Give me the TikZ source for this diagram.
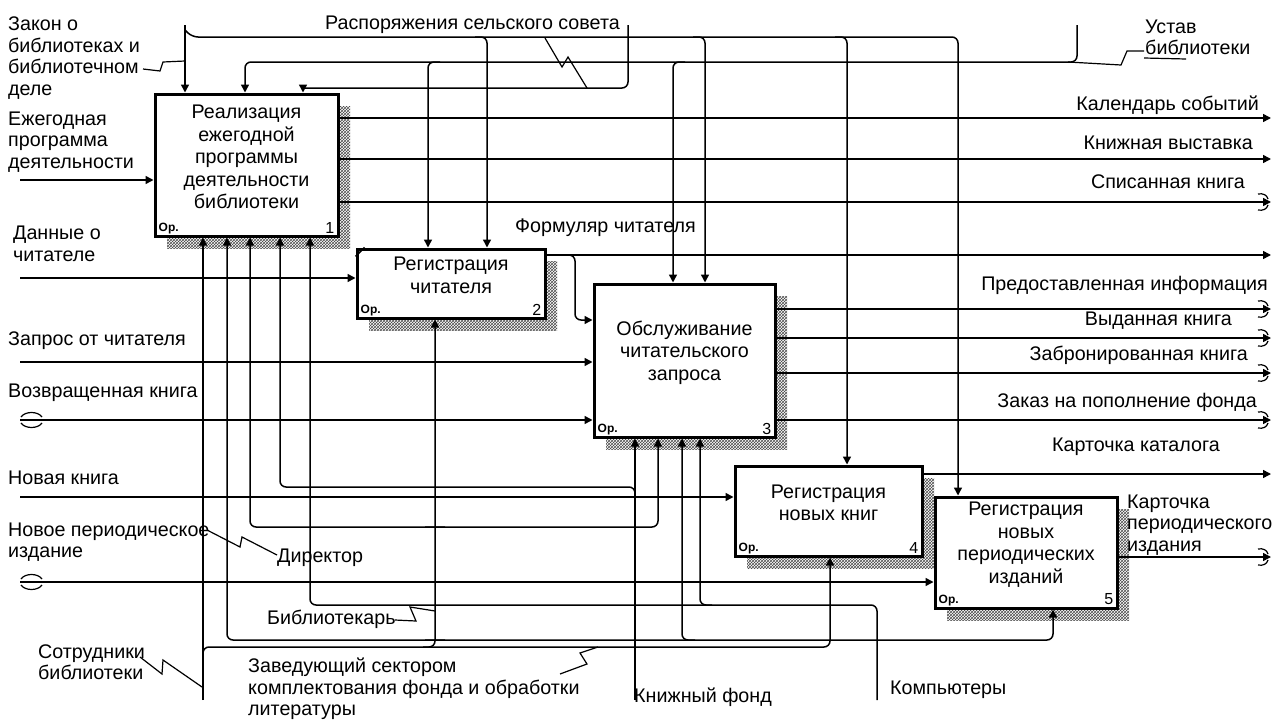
\documentclass[tikz,border=0pt]{standalone}
\usepackage{fontspec}
\setmainfont{Liberation Sans}
\usetikzlibrary{arrows.meta,calc,patterns,positioning}
\begin{document}
\begin{tikzpicture}
[x=1pt,y=-1pt,
  ctl/.style={line width=1.5pt,rounded corners=6pt,-{Triangle[length=8pt,width=8pt]}},
  lin/.style={line width=1.5pt,rounded corners=6pt},
  squig/.style={line width=1.2pt},
  box/.style={draw,line width=3pt,fill=white,inner sep=0pt},
  shade/.style={pattern=crosshatch,pattern color=black!70},
  lbl/.style={font=\fontsize{19.7}{21.5}\selectfont,inner sep=0pt,align=left},
  ttl/.style={font=\fontsize{19.7}{22.5}\selectfont,inner sep=0pt,align=center},
  refno/.style={font=\fontsize{12}{12}\selectfont\bfseries,inner sep=0pt},
  boxno/.style={font=\fontsize{16}{16}\selectfont,inner sep=0pt},
  tunr/.pic={\draw[squig] (-13,-8) .. controls (-8,-9) and (-4,-7) .. (-3,-3);
             \draw[squig] (-13,8) .. controls (-8,9) and (-4,7) .. (-3,3);},
  tunl/.pic={\draw[squig] (1,-3) .. controls (5,-9) and (18,-9) .. (22,-3);
             \draw[squig] (1,3) .. controls (5,9) and (18,9) .. (22,3);}]
\useasboundingbox (0,0) rectangle (1272,720);
%% activity boxes
\foreach \n/\x/\y/\w/\h/\t in {
  1/246.5/165/183/142/{Реализация\\ежегодной\\программы\\деятельности\\библиотеки},
  2/451/283.5/188/69/{Регистрация\\читателя},
  3/684.5/360.5/181/153/{Обслуживание\\читательского\\запроса},
  4/828.5/511/187/90/{Регистрация\\новых книг},
  5/1026/552.5/182/111/{Регистрация\\новых\\периодических\\изданий}}
{
  \fill[shade] (\x-\w/2+12,\y-\h/2+12) rectangle (\x+\w/2+12,\y+\h/2+12);
  \node[box,minimum width=\w pt,minimum height=\h pt] (b\n) at (\x,\y) {};
  \node[ttl] (t\n) at ($(b\n)+(0,-8)$) {\t};
  \node[refno,anchor=west] (r\n) at ($(b\n.south west)+(5,-9)$) {Ор.};
  \node[boxno,anchor=east] (n\n) at ($(b\n.south east)+(-5,-10)$) {\n};
}
\draw[line width=1.5pt] ($(b2.north west)+(0,9)$) -- ($(b2.north west)+(9,0)$);
%% controls
\coordinate (zak) at (185,25);
\coordinate (ras) at (628,25);
\coordinate (ust) at (1077,25);
\coordinate (ustL) at (245,62);
\coordinate (rasL) at (303,88);
\draw[ctl] (zak) -- (zak |- b1.north);
\draw[ctl] ($(zak)+(0,5)$) -- ($(zak)+(7,12)$) -| (b5.north -| 958,0);
\foreach \x/\b in {487/b2,705/b3,847/b4}
  \draw[ctl] (\x-12,37) -| (\b.north -| \x,0);
\draw[ctl] (ust) |- (ustL) -- (ustL |- b1.north);
\foreach \x/\b in {428/b2,673/b3}
  \draw[ctl] (\x+12,62) -| (\b.north -| \x,0);
\draw[lin] (ras) |- (rasL);
\draw[ctl] ($(rasL)+(0,-2)$) -- (rasL |- b1.north);
%% inputs
\foreach \y/\b in {180/b1,278/b2,362/b3,420/b3,497/b4,582/b5}
{
  \coordinate (i\y) at (20,\y);
  \draw[ctl] (i\y) -- (i\y -| \b.west);
}
\pic at (i420) {tunl};
\pic at (i582) {tunl};
%% outputs
\foreach \y/\b in {118/b1,159/b1,202/b1,255/b2,309/b3,338/b3,373/b3,420/b3,474/b4,557/b5}
{
  \coordinate (o\y) at (1271,\y);
  \draw[ctl] (o\y -| \b.east) -- (o\y);
}
\foreach \y in {202,309,338,373,420,557}
  \pic at (o\y) {tunr};
\coordinate (frm) at (575,320);
\draw[ctl] ($(frm |- o255)+(-12,0)$) -| (frm) -- (frm -| b3.west);
%% mechanisms
\coordinate (sotr) at (203,700);
\coordinate (kniz) at (635,700);
\coordinate (komp) at (877,700);
\coordinate (kf1) at (280,487);
\coordinate (km1) at (310,605);
\coordinate (m4) at (830,647);
\draw[ctl] (sotr) -- (sotr |- b1.south);
\draw[ctl] (kniz) -- (kniz |- b3.south);
\draw[ctl] ($(kniz)+(0,-200)$) |- (kf1) -- (kf1 |- b1.south);
\draw[ctl] (komp) |- (km1) -- (km1 |- b1.south);
\draw[ctl] (712,605) -| (b3.south -| 700,0);
\draw[ctl] (445,527) -| (b1.south -| 250,0);
\draw[ctl] (425,527) -| (b3.south -| 658,0);
\draw[ctl] (445,640) -| (b1.south -| 227,0);
\draw[ctl] (425,640) -| (b5.south -| 1053,0);
\draw[ctl] (695,640) -| (b3.south -| 682,0);
\draw[ctl] ($(sotr)+(0,-40)$) |- (m4) -- (m4 |- b4.south);
\draw[ctl] (423,647) -| (b2.south -| 435,0);
%% labels
\node[lbl,anchor=west] (lZak) at (8,58) {Закон о\\библиотеках и\\библиотечном\\деле};
\node[lbl,anchor=west] (lEzh) at (8,142) {Ежегодная\\программа\\деятельности};
\node[lbl,anchor=west] (lDan) at (13,244) {Данные о\\читателе};
\node[lbl,anchor=west] (lZap) at (8,341) {Запрос от читателя};
\node[lbl,anchor=west] (lVoz) at (8,393) {Возвращенная книга};
\node[lbl,anchor=west] (lNov) at (8,478) {Новая книга};
\node[lbl,anchor=west] (lPer) at (8,542) {Новое периодическое\\издание};
\node[lbl,anchor=west] (lSot) at (38,662) {Сотрудники\\библиотеки};
\node[lbl,anchor=west] (lDir) at (277,558) {Директор};
\node[lbl,anchor=west] (lBib) at (267,619) {Библиотекарь};
\node[lbl,anchor=west] (lZav) at (248,689) {Заведующий сектором\\комплектования фонда и обработки\\литературы};
\node[lbl,anchor=west] (lKnf) at (634,697) {Книжный фонд};
\node[lbl,anchor=west] (lKom) at (890,690) {Компьютеры};
\node[lbl,anchor=west] (lRas) at (325,25) {Распоряжения сельского совета};
\node[lbl,anchor=west] (lUst) at (1145,37.5) {Устав\\библиотеки};
\node[lbl,anchor=west] (lFrm) at (515,228) {Формуляр читателя};
\node[lbl,anchor=east] (lKal) at (1259,105) {Календарь событий};
\node[lbl,anchor=east] (lVys) at (1253,143) {Книжная выставка};
\node[lbl,anchor=east] (lSpi) at (1245,182) {Списанная книга};
\node[lbl,anchor=east] (lPre) at (1268,285) {Предоставленная информация};
\node[lbl,anchor=east] (lVyd) at (1232,321) {Выданная книга};
\node[lbl,anchor=east] (lZab) at (1248,355) {Забронированная книга};
\node[lbl,anchor=east] (lZpf) at (1257,402) {Заказ на пополнение фонда};
\node[lbl,anchor=east] (lKat) at (1220,447) {Карточка каталога};
\node[lbl,anchor=west] (lKpi) at (1127,525) {Карточка\\периодического\\издания};
%% label squiggles
\foreach \p/\q/\r/\s in {
  {143,69}/{160,71}/{163,62}/{185,61},
  {545,38}/{562,67}/{568,57}/{587,88},
  {1144,51}/{1127,51}/{1121,65}/{1068,62},
  {207,530}/{240,547}/{242,537}/{277,555},
  {395,620}/{416,621}/{410,607}/{435,611},
  {140,657}/{162,674}/{163,660}/{202,687},
  {560,674}/{587,664}/{580,653}/{598,647}}
{
  \draw[squig] (\p) -- (\q) -- (\r) -- (\s);
}
\draw[squig] (1144,58) -- (1186,59);
\end{tikzpicture}
\end{document}
